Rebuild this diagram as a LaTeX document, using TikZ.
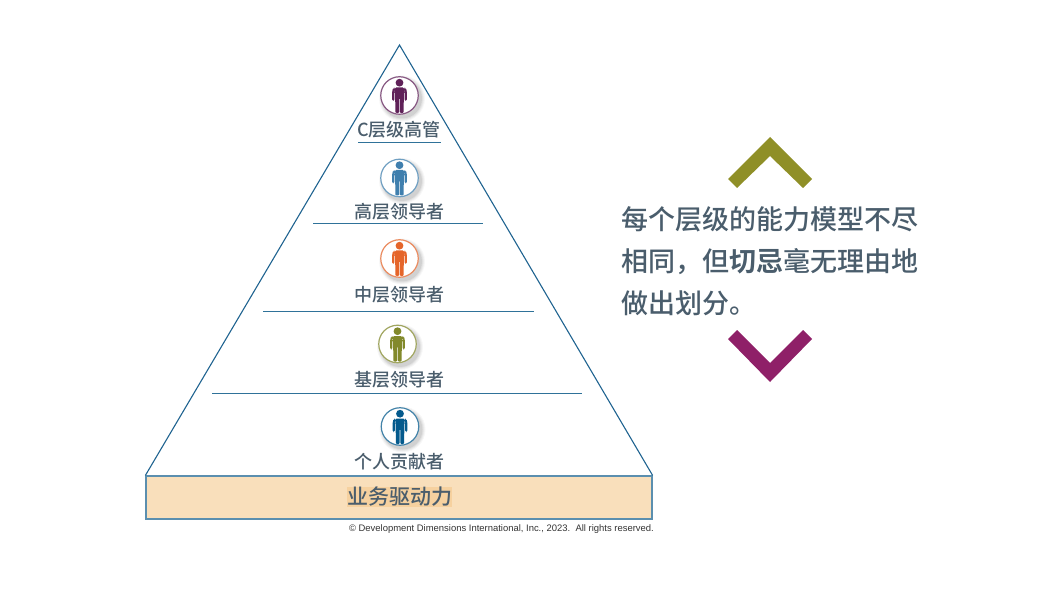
\documentclass[tikz,border=0pt]{standalone}
\usepackage{fontspec}
\setmainfont{Liberation Sans}
\newfontfamily\cjk[UprightFont=* Medium,BoldFont=* Bold]{Noto Sans CJK SC}
\definecolor{lineblue}{HTML}{1F6390}
\definecolor{rulecol}{HTML}{5B8FAF}
\definecolor{rulethin}{HTML}{2F7299}
\definecolor{txt}{HTML}{4A5D6C}
\definecolor{basefill}{HTML}{F9DFBB}
\definecolor{hilite}{HTML}{F6D19F}
\definecolor{cpurple}{HTML}{5F2158}
\definecolor{cblue}{HTML}{3F7FAE}
\definecolor{corange}{HTML}{E5652A}
\definecolor{cgreen}{HTML}{82892B}
\definecolor{cnavy}{HTML}{045A8D}
\definecolor{chevup}{HTML}{8F8F27}
\definecolor{chevdown}{HTML}{8F2068}
\tikzset{
  x=1pt,y=-1pt,
  lvl/.style={font=\cjk\fontsize{18}{18}\selectfont,text=txt,inner sep=0pt,anchor=center},
  rulel/.style={draw=rulethin,line width=1pt},
  person/.pic={
    \foreach \r/\o in {23/.03,22/.04,21/.05,20/.07}{\fill[black,opacity=\o] (2.5,3) circle (\r);}
    \node[circle,draw=#1!75!white,line width=1.2pt,fill=white,minimum size=37.5pt,inner sep=0pt] (-ring) at (0,0) {};
    \fill[#1] (0,-12.8) circle (3.9);
    % torso and legs
    \fill[#1,rounded corners=1pt] (-4.4,-8) -- (4.4,-8) -- (4.4,0) -- (4,17.5) -- (.45,17.5) -- (.45,2.5) -- (-.45,2.5) -- (-.45,17.5) -- (-4,17.5) -- (-4.4,0) -- cycle;
    % arms
    \fill[#1,rounded corners=1.5pt] (-4.2,-8) -- (-6.4,-7.6) -- (-7.3,-5) -- (-7.3,5.5) -- (-5.1,5.5) -- (-5.1,-4) -- (-4.2,-4) -- cycle;
    \fill[#1,rounded corners=1.5pt] (4.2,-8) -- (6.4,-7.6) -- (7.3,-5) -- (7.3,5.5) -- (5.1,5.5) -- (5.1,-4) -- (4.2,-4) -- cycle;
  }
}
\begin{document}
\begin{tikzpicture}
\useasboundingbox (0,0) rectangle (1051,593);
% base
\node[draw=rulecol,line width=1.2pt,fill=basefill,minimum width=506pt,minimum height=43pt,inner sep=0pt] (base) at (399,497.5) {};
\fill[hilite] (347,487) rectangle (452,507);
\node[font=\cjk\fontsize{21}{21}\selectfont,text=txt,inner sep=0pt] (drv) at (399.5,497) {业务驱动力};
% triangle
\coordinate (apex) at (399.5,45);
\draw[lineblue,line width=1.1pt] (base.north west) -- (apex) -- (base.north east);
% rules
\draw[rulel] (358,143) -- (441,143);
\draw[rulel] (313,223.5) -- (483,223.5);
\draw[rulel] (263,311) -- (534,311);
\draw[rulel] (212,393.5) -- (582,393.5);
% people
\pic (p1) at (399.5,95.5) {person=cpurple};
\pic (p2) at (399.5,178) {person=cblue};
\pic (p3) at (399.5,258.5) {person=corange};
\pic (p4) at (397.5,344) {person=cgreen};
\pic (p5) at (400,426.5) {person=cnavy};
% labels
\node[lvl] (l1) at (399,130) {C层级高管};
\node[lvl] (l2) at (399,212) {高层领导者};
\node[lvl] (l3) at (399,295) {中层领导者};
\node[lvl] (l4) at (399,380) {基层领导者};
\node[lvl] (l5) at (399,462) {个人贡献者};
% copyright
\node[font=\fontsize{9.45}{9.45}\selectfont,text=black!80,anchor=base east,inner sep=0pt] (copy) at (654,531) {© Development Dimensions International, Inc., 2023.\ \ All rights reserved.};
% chevrons
\fill[chevup] (770,137) -- (812,179) -- (803,188) -- (770,156) -- (737,188) -- (728,179) -- cycle;
\fill[chevdown] (770,382) -- (812,339) -- (803,330) -- (770,363) -- (737,330) -- (728,339) -- cycle;
% main text
\node[font=\cjk\fontsize{27}{42}\selectfont,text=txt,align=left,anchor=west,inner sep=0pt] (msg) at (621,261.5) {每个层级的能力模型不尽\\相同，但{\bfseries 切忌}毫无理由地\\做出划分。};
\end{tikzpicture}
\end{document}
